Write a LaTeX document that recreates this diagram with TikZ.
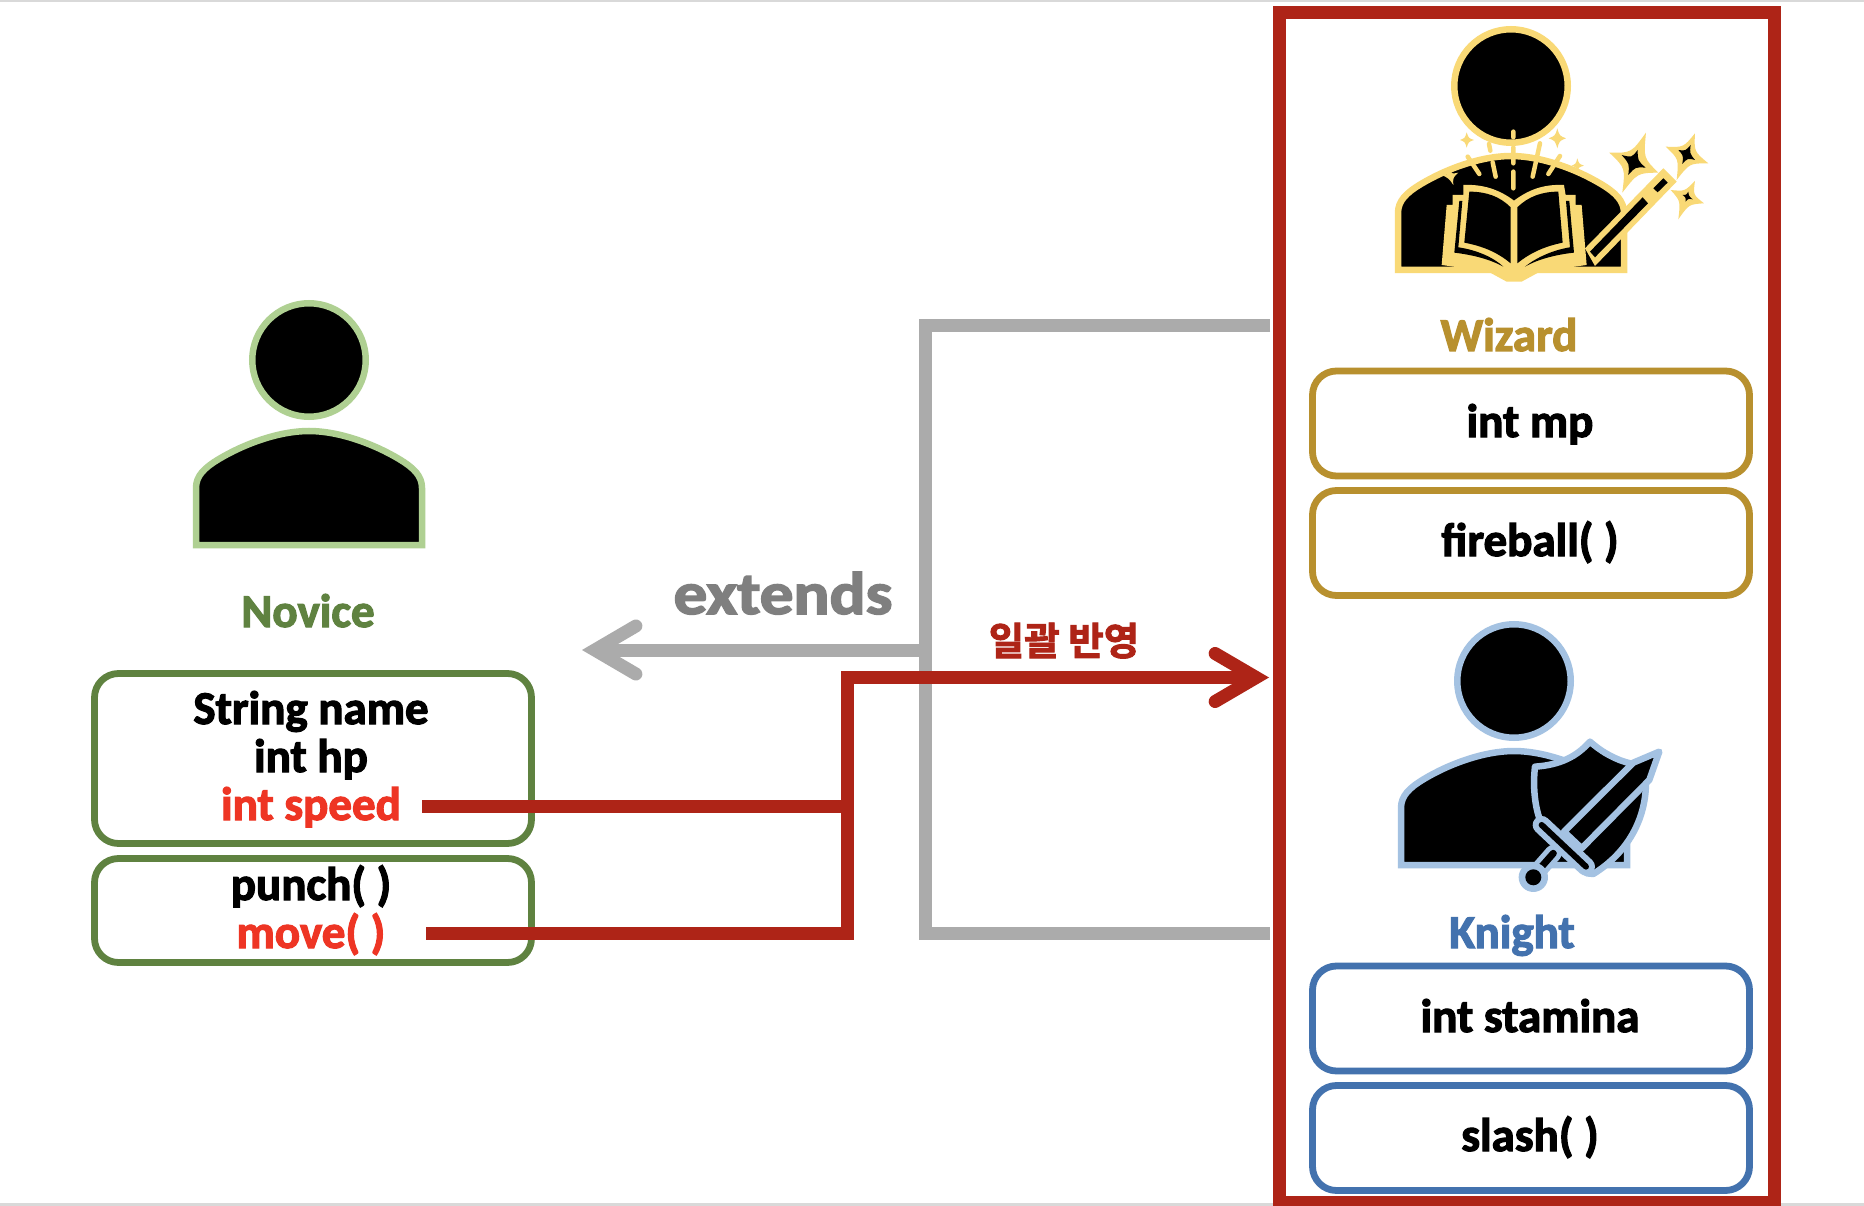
\documentclass[tikz,border=0pt]{standalone}
\usepackage{fontspec}
\usetikzlibrary{arrows.meta,calc}
\setmainfont{Carlito}[BoldFont=Carlito Bold,BoldFeatures={FakeBold=2.5}]
\newfontfamily\krfont{Noto Sans CJK KR}[BoldFont=Noto Sans CJK KR Bold,BoldFeatures={FakeBold=2.5}]
\definecolor{redline}{HTML}{AE2417}
\definecolor{brightred}{HTML}{EE3524}
\definecolor{greyline}{HTML}{ABABAB}
\definecolor{greytext}{HTML}{7F7F7F}
\definecolor{novice}{HTML}{5F8240}
\definecolor{novicelight}{HTML}{AFD092}
\definecolor{wiz}{HTML}{B8902E}
\definecolor{wizlight}{HTML}{F9D976}
\definecolor{kni}{HTML}{4372AE}
\definecolor{knilight}{HTML}{A4C2E2}
\tikzset{
  attrbox/.style={draw=#1,line width=6.8pt,rounded corners=24pt,fill=white,inner sep=0pt},
  lbl/.style={font=\bfseries\fontsize{47}{49}\selectfont,inner sep=0pt,anchor=base},
  redpath/.style={draw=redline,line width=13pt},
  greypath/.style={draw=greyline,line width=13pt},
  iconbody/.style={draw=#1,line width=6.5pt,fill=black,miter limit=10},
  bighead/.style={-{Straight Barb[length=41pt,width=48pt,line width=13pt,line cap=round,line join=miter]}},
}
\newcommand{\personicon}[6]{%
  % #1 name, #2 cx, #3 head cy, #4 colour, #5 body top, #6 body bottom
  \node[circle,draw=#4,line width=6.5pt,fill=black,minimum size=113.5pt,inner sep=0pt] (#1head) at (#2,#3) {};
  \draw[iconbody=#4] (#2-113,#6) -- (#2-113,#5+57)
    .. controls (#2-113,#5+45) and (#2-105,#5+37) .. (#2-90,#5+28)
    .. controls (#2-65,#5+13) and (#2-30,#5) .. (#2,#5)
    .. controls (#2+30,#5) and (#2+65,#5+13) .. (#2+90,#5+28)
    .. controls (#2+105,#5+37) and (#2+113,#5+45) .. (#2+113,#5+57)
    -- (#2+113,#6) -- cycle;
}
\newcommand{\ctl}[3]{($#1!.5!($#2!.5!#3$)$)}
\newcommand{\spark}[6]{%
  \fill[#6] #2 .. controls \ctl{#1}{#2}{#3} .. #3 .. controls \ctl{#1}{#3}{#4} .. #4
     .. controls \ctl{#1}{#4}{#5} .. #5 .. controls \ctl{#1}{#5}{#2} .. cycle;
}
\begin{document}
\begin{tikzpicture}[x=1pt,y=-1pt]
\useasboundingbox (0,0) rectangle (1864,1206);
\fill[white] (0,0) rectangle (1864,1206);
\fill[black!15] (0,0) rectangle (1864,2);
\fill[black!15] (0,1203) rectangle (1864,1206);

% Novice
\personicon{nov}{309}{360}{novicelight}{431}{545}
\node[lbl,text=novice] (novlabel) at (308,627) {Novice};
\node[attrbox=novice,minimum width=437pt,minimum height=170pt] (novattr) at (313,758.5) {};
\node[attrbox=novice,minimum width=437pt,minimum height=104pt] (novmeth) at (313,910.5) {};
\node[lbl] (t1) at (311,724) {String name};
\node[lbl] (t2) at (311,772) {int hp};
\node[lbl,text=brightred] (t3) at (311,820) {int speed};
\node[lbl] (t4) at (311,900) {punch( )};
\node[lbl,text=brightred] (t5) at (311,948) {move( )};

% Grey bracket and extends
\coordinate (gt) at (1270,325.5);
\coordinate (gb) at (1270,933);
\coordinate (gc) at (925.5,325.5);
\coordinate (gd) at (925.5,933);
\coordinate (garrow) at (925.5,650);
\coordinate (gtip) at (582,650);
\draw[greypath] (gt) -- (gc) -- (gd) -- (gb);
\draw[greypath,bighead] (garrow) -- (gtip);
\node[lbl,text=greytext,font=\bfseries\fontsize{60}{62}\selectfont] (ext) at (783,614) {\scalebox{1.12}[1]{extends}};

% Red connector
\coordinate (r1) at (422,806);
\coordinate (r2) at (426,933.5);
\coordinate (rv) at (847,806);
\coordinate (rv2) at (847,933.5);
\coordinate (rt) at (847,677.5);
\coordinate (rtip) at (1269,677.5);
\draw[redpath] (r1) -- (rv);
\draw[redpath,line join=miter,bighead] (r2) -- (rv2) -- (rt) -- (rtip);
\node[inner sep=0pt,anchor=base,text=redline,font=\krfont\bfseries\fontsize{38.5}{40}\selectfont] (kr) at (1064,655) {일괄 반영};

% Outer red frame
\draw[draw=redline,line width=13pt] (1279.5,12.5) rectangle (1774.5,1202.5);

% Wizard icon
\personicon{wiz}{1511}{86}{wizlight}{156}{270}
\begin{scope}[shift={(1340,0)},x=0.3333pt,y=-0.3333pt]
  % rays
  \draw[wizlight,line width=4.5pt,line cap=round]
    (520,395)--(520,412) (520,442)--(520,490) (520,515)--(520,565)
    (447,432)--(451,452) (458,487)--(467,530)
    (600,430)--(578,530) (383,470)--(418,522) (660,468)--(625,522);
  \spark{(380,420)}{(380,397)}{(402,420)}{(380,443)}{(360,420)}{wizlight}
  \spark{(652,415)}{(652,385)}{(678,415)}{(652,445)}{(626,415)}{wizlight}
  \spark{(712,497)}{(712,475)}{(732,497)}{(712,515)}{(695,497)}{wizlight}
  \spark{(330,530)}{(355,518)}{(340,555)}{(305,525)}{(330,510)}{wizlight}
  % book
  \fill[wizlight] (320,615) -- (338,615) -- (338,585) -- (370,585) -- (370,555)
     .. controls (430,552) and (480,570) .. (522,602)
     .. controls (565,570) and (610,552) .. (672,555)
     -- (677,585) -- (707,585) -- (707,615) -- (725,615) -- (740,795)
     -- (600,815) -- (545,845) -- (500,845) -- (445,815) -- (305,795) -- cycle;
  \fill[black] (388,575) .. controls (440,575) and (480,590) .. (512,622) -- (512,790)
     .. controls (470,755) and (425,738) .. (373,728) -- cycle;
  \fill[black] (655,575) .. controls (605,575) and (565,590) .. (532,622) -- (532,790)
     .. controls (575,755) and (620,738) .. (668,728) -- cycle;
  \fill[black] (358,603) -- (367,603) -- (355,742) .. controls (410,750) and (460,772) .. (490,800)
     .. controls (450,778) and (400,765) .. (343,758) -- cycle;
  \fill[black] (678,603) -- (688,603) -- (702,758) .. controls (640,765) and (590,780) .. (555,800)
     .. controls (590,772) and (640,750) .. (690,742) -- cycle;
  % wand
  \fill[wizlight] (735,745) -- (970,505) -- (1010,545) -- (765,798) -- cycle;
  \fill[black] (750,755) -- (908,592) -- (924,610) -- (765,772) -- cycle;
  \fill[black] (940,565) -- (970,535) -- (983,548) -- (953,577) -- cycle;
  % big sparkles
  \spark{(885,490)}{(918,398)}{(955,518)}{(847,578)}{(808,458)}{wizlight}
  \spark{(882,488)}{(893,450)}{(917,503)}{(865,525)}{(845,465)}{black}
  \spark{(1040,465)}{(1065,400)}{(1105,490)}{(1010,540)}{(977,440)}{wizlight}
  \spark{(1040,463)}{(1052,435)}{(1065,480)}{(1027,492)}{(1015,450)}{black}
  \spark{(1040,592)}{(1065,543)}{(1092,610)}{(1015,658)}{(992,570)}{wizlight}
  \spark{(1042,590)}{(1045,575)}{(1058,598)}{(1037,605)}{(1028,585)}{black}
\end{scope}
\node[lbl,text=wiz] (wizlabel) at (1509,351) {Wizard};
\node[attrbox=wiz,minimum width=437pt,minimum height=105pt] (wizattr) at (1531,423.5) {};
\node[attrbox=wiz,minimum width=437pt,minimum height=105pt] (wizmeth) at (1531,543) {};
\node[lbl] (tmp) at (1530,437) {int mp};
\node[lbl] (tfb) at (1530,556) {fireball( )};

% Knight icon
\personicon{kni}{1514}{681}{knilight}{751}{865}
\begin{scope}[shift={(1360,600)},x=0.3333pt,y=-0.3333pt]
  \draw[knilight,line width=17pt,line cap=round] (580,760) -- (522,826);
  \draw[black,line width=7pt,line cap=round] (580,760) -- (522,826);
  \fill[knilight] (520,832) circle[radius=44];
  \fill[black] (520,832) circle[radius=24];
  \draw[iconbody=knilight,line join=round] (690,425) .. controls (650,470) and (600,495) .. (525,500)
     .. controls (518,560) and (525,620) .. (540,660) -- (680,820) -- (700,822)
     .. controls (800,760) and (860,660) .. (858,540) -- (810,490)
     .. controls (770,480) and (730,460) .. (690,425) -- cycle;
  \draw[iconbody=knilight,line join=round] (898,455) -- (820,488) -- (612,695) -- (665,745) -- (868,540) -- cycle;
  \draw[knilight,line width=18pt,line cap=round] (545,675) -- (678,800);
  \draw[black,line width=6pt,line cap=round] (545,675) -- (678,800);
\end{scope}
\node[lbl,text=kni] (knilabel) at (1512,948) {Knight};
\node[attrbox=kni,minimum width=437pt,minimum height=105pt] (kniattr) at (1531,1018.5) {};
\node[attrbox=kni,minimum width=437pt,minimum height=105pt] (knimeth) at (1531,1138) {};
\node[lbl] (tst) at (1530,1032) {int stamina};
\node[lbl] (tsl) at (1530,1151) {slash( )};
\end{tikzpicture}
\end{document}
